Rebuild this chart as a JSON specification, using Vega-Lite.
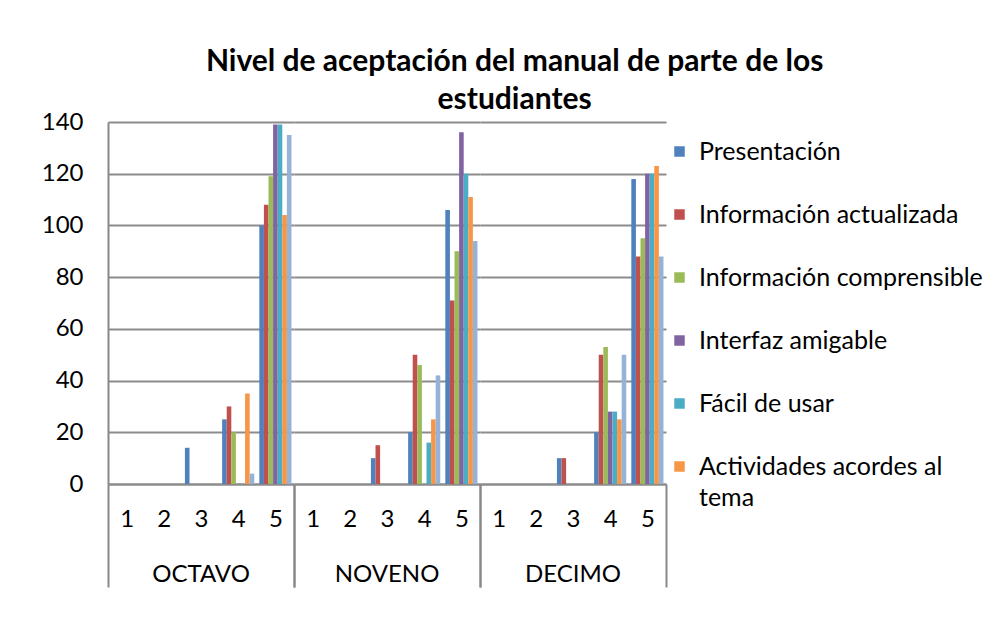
{
  "$schema": "https://vega.github.io/schema/vega-lite/v6.json",
  "padding": {"left": 41, "top": 47, "right": 5, "bottom": 5},
  "background": "white",
  "config": {"view": {"stroke": null}, "font": "Lato", "style": {"guide-label": {"lineHeight": 31}}},
  "title": {
    "text": ["Nivel de aceptación del manual de parte de los", "estudiantes"],
    "fontSize": 30, "fontWeight": "bold", "font": "Lato", "color": "black",
    "lineHeight": 38, "anchor": "middle", "offset": -5, "dx": -6
  },
  "data": {"values": [
    {"grado": "OCTAVO", "nivel": "3", "serie": "Presentación", "valor": 14},
    {"grado": "OCTAVO", "nivel": "4", "serie": "Presentación", "valor": 25},
    {"grado": "OCTAVO", "nivel": "4", "serie": "Información actualizada", "valor": 30},
    {"grado": "OCTAVO", "nivel": "4", "serie": "Información comprensible", "valor": 20},
    {"grado": "OCTAVO", "nivel": "4", "serie": "Actividades acordes al tema", "valor": 35},
    {"grado": "OCTAVO", "nivel": "4", "serie": "Contenido", "valor": 4},
    {"grado": "OCTAVO", "nivel": "5", "serie": "Presentación", "valor": 100},
    {"grado": "OCTAVO", "nivel": "5", "serie": "Información actualizada", "valor": 108},
    {"grado": "OCTAVO", "nivel": "5", "serie": "Información comprensible", "valor": 119},
    {"grado": "OCTAVO", "nivel": "5", "serie": "Interfaz amigable", "valor": 139},
    {"grado": "OCTAVO", "nivel": "5", "serie": "Fácil de usar", "valor": 139},
    {"grado": "OCTAVO", "nivel": "5", "serie": "Actividades acordes al tema", "valor": 104},
    {"grado": "OCTAVO", "nivel": "5", "serie": "Contenido", "valor": 135},
    {"grado": "NOVENO", "nivel": "3", "serie": "Presentación", "valor": 10},
    {"grado": "NOVENO", "nivel": "3", "serie": "Información actualizada", "valor": 15},
    {"grado": "NOVENO", "nivel": "4", "serie": "Presentación", "valor": 20},
    {"grado": "NOVENO", "nivel": "4", "serie": "Información actualizada", "valor": 50},
    {"grado": "NOVENO", "nivel": "4", "serie": "Información comprensible", "valor": 46},
    {"grado": "NOVENO", "nivel": "4", "serie": "Fácil de usar", "valor": 16},
    {"grado": "NOVENO", "nivel": "4", "serie": "Actividades acordes al tema", "valor": 25},
    {"grado": "NOVENO", "nivel": "4", "serie": "Contenido", "valor": 42},
    {"grado": "NOVENO", "nivel": "5", "serie": "Presentación", "valor": 106},
    {"grado": "NOVENO", "nivel": "5", "serie": "Información actualizada", "valor": 71},
    {"grado": "NOVENO", "nivel": "5", "serie": "Información comprensible", "valor": 90},
    {"grado": "NOVENO", "nivel": "5", "serie": "Interfaz amigable", "valor": 136},
    {"grado": "NOVENO", "nivel": "5", "serie": "Fácil de usar", "valor": 120},
    {"grado": "NOVENO", "nivel": "5", "serie": "Actividades acordes al tema", "valor": 111},
    {"grado": "NOVENO", "nivel": "5", "serie": "Contenido", "valor": 94},
    {"grado": "DECIMO", "nivel": "3", "serie": "Presentación", "valor": 10},
    {"grado": "DECIMO", "nivel": "3", "serie": "Información actualizada", "valor": 10},
    {"grado": "DECIMO", "nivel": "4", "serie": "Presentación", "valor": 20},
    {"grado": "DECIMO", "nivel": "4", "serie": "Información actualizada", "valor": 50},
    {"grado": "DECIMO", "nivel": "4", "serie": "Información comprensible", "valor": 53},
    {"grado": "DECIMO", "nivel": "4", "serie": "Interfaz amigable", "valor": 28},
    {"grado": "DECIMO", "nivel": "4", "serie": "Fácil de usar", "valor": 28},
    {"grado": "DECIMO", "nivel": "4", "serie": "Actividades acordes al tema", "valor": 25},
    {"grado": "DECIMO", "nivel": "4", "serie": "Contenido", "valor": 50},
    {"grado": "DECIMO", "nivel": "5", "serie": "Presentación", "valor": 118},
    {"grado": "DECIMO", "nivel": "5", "serie": "Información actualizada", "valor": 88},
    {"grado": "DECIMO", "nivel": "5", "serie": "Información comprensible", "valor": 95},
    {"grado": "DECIMO", "nivel": "5", "serie": "Interfaz amigable", "valor": 120},
    {"grado": "DECIMO", "nivel": "5", "serie": "Fácil de usar", "valor": 120},
    {"grado": "DECIMO", "nivel": "5", "serie": "Actividades acordes al tema", "valor": 123},
    {"grado": "DECIMO", "nivel": "5", "serie": "Contenido", "valor": 88}
  ]},
  "facet": {
    "column": {
      "field": "grado", "type": "nominal",
      "sort": ["OCTAVO", "NOVENO", "DECIMO"],
      "title": null,
      "header": {"labelOrient": "bottom", "labelFontSize": 24, "labelFont": "Lato", "labelColor": "black", "labelPadding": -25}
    }
  },
  "spacing": 0,
  "spec": {
    "width": 186,
    "height": 362,
    "mark": {"type": "bar"},
    "encoding": {
      "y": {
        "field": "valor", "type": "quantitative",
        "scale": {"domain": [0, 140], "nice": false},
        "axis": {
          "title": null, "values": [0, 20, 40, 60, 80, 100, 120, 140],
          "labelFontSize": 24, "labelFont": "Lato", "labelColor": "black",
          "labelPadding": 25, "ticks": false,
          "domainColor": "#888888", "domainWidth": 2,
          "grid": true, "gridColor": "#8c8c8c", "gridWidth": 2
        }
      },
      "x": {
        "field": "nivel", "type": "nominal",
        "scale": {"domain": ["1", "2", "3", "4", "5"], "paddingInner": 0, "paddingOuter": 0},
        "axis": {"title": null, "labelAngle": 0, "labelFontSize": 24, "labelFont": "Lato", "labelColor": "black", "labelPadding": -80, "ticks": true, "tickBand": "extent", "tickSize": 103, "tickWidth": 2,
          "tickColor": {"condition": {"test": "datum.value == '5' || datum.extra", "value": "#888888"}, "value": "rgba(0,0,0,0)"},
          "domainColor": "#888888", "domainWidth": 2}
      },
      "xOffset": {
        "field": "serie", "type": "nominal",
        "scale": {"domain": ["Presentación", "Información actualizada", "Información comprensible", "Interfaz amigable", "Fácil de usar", "Actividades acordes al tema", "Contenido"], "paddingOuter": 0.55, "paddingInner": 0}
      },
      "color": {
        "field": "serie", "type": "nominal",
        "scale": {
          "domain": ["Presentación", "Información actualizada", "Información comprensible", "Interfaz amigable", "Fácil de usar", "Actividades acordes al tema", "Contenido"],
          "range": ["#4F81BD", "#C0504D", "#9BBB59", "#8064A2", "#4BACC6", "#F79646", "#95B3D7"]
        },
        "legend": {
          "values": ["Presentación", "Información actualizada", "Información comprensible", "Interfaz amigable", "Fácil de usar", "Actividades acordes al tema"],
          "title": null, "orient": "right", "offset": -17, "padding": 17,
          "labelFontSize": 25, "labelFont": "Lato", "labelColor": "black",
          "labelLimit": 400, "symbolType": "square", "symbolSize": 110, "symbolStrokeWidth": 0,
          "rowPadding": 37, "labelOffset": 7,
          "labelExpr": "datum.label == 'Actividades acordes al tema' ? ['Actividades acordes al', 'tema'] : datum.label"
        }
      }
    }
  }
}
